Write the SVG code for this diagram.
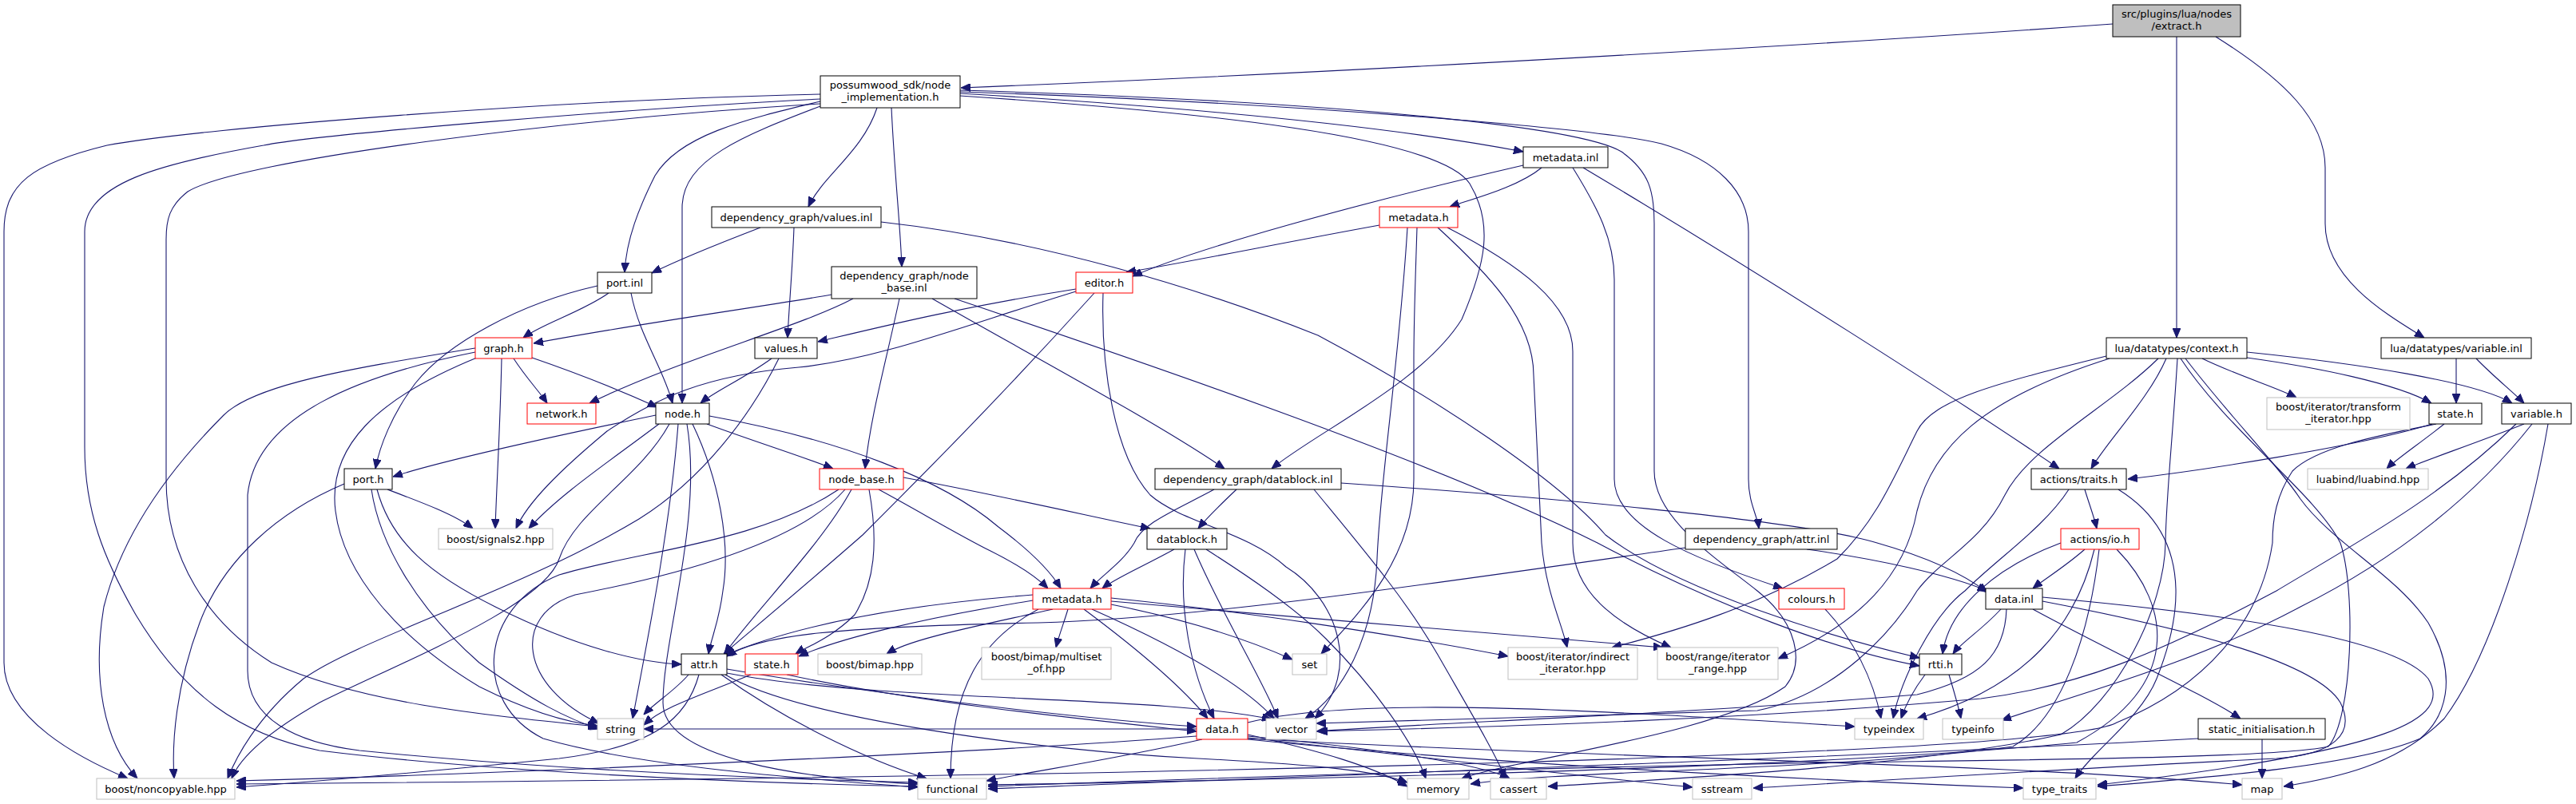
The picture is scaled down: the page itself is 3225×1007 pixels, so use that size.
<svg xmlns="http://www.w3.org/2000/svg" width="3225" height="1007" viewBox="0 0 3225 1007">
<style>
.n rect{fill:#ffffff;stroke:#000000;stroke-width:1}
.sys rect{stroke:#bfbfbf}
.trunc rect{stroke:#ff0000}
.root rect{fill:#bfbfbf;stroke:#000000}
text{font-family:"DejaVu Sans","Liberation Sans",sans-serif;font-size:13px;text-anchor:middle;fill:#000000}
#edges path{fill:none;stroke:#191970;stroke-width:1.1;marker-end:url(#arr)}
</style>
<defs>
<marker id="arr" markerUnits="userSpaceOnUse" markerWidth="12" markerHeight="10" refX="12" refY="5" orient="auto"><path d="M0,0 L12,5 L0,10 z" fill="#191970" stroke="#191970" stroke-width="1"/></marker>
</defs>
<rect x="0" y="0" width="3225" height="1007" fill="#ffffff"/>
<g id="edges">
<path d="M2645,30 C2300,55 1700,90 1203,110"/>
<path d="M2725,46 L2725,423"/>
<path d="M2774,46 C2860,100 2911,150 2911,210 L2911,280 C2911,350 2990,395 3035,423"/>
<path d="M1027,118 C700,125 250,160 134,182 C40,205 5,230 5,290 L5,830 C5,900 100,950 160,975"/>
<path d="M1027,124 C800,135 400,168 330,182 C200,205 106,230 106,290 L106,560 C106,640 130,700 170,770 C230,870 300,920 400,940 C600,965 900,980 1149,985"/>
<path d="M1027,130 C700,150 300,200 235,240 C212,258 208,275 208,300 L208,600 C208,700 260,780 340,830 C450,880 600,895 748,910"/>
<path d="M1027,127 C930,150 850,170 820,220 C800,260 784,300 782,341"/>
<path d="M1027,133 C930,170 854,200 854,260 L854,505"/>
<path d="M1098,135 C1080,190 1030,220 1012,259"/>
<path d="M1116,135 C1120,220 1127,280 1129,334"/>
<path d="M1202,117 C1500,135 1750,160 1907,190"/>
<path d="M1202,120 C1500,140 1800,170 1840,230 C1870,280 1860,330 1830,400 C1780,480 1650,540 1592,587"/>
<path d="M1202,115 C1600,128 2000,160 2080,180 C2150,200 2189,240 2189,290 L2189,600 C2189,630 2200,645 2202,662"/>
<path d="M1202,113 C1700,128 1980,160 2030,190 C2065,215 2071,240 2071,280 L2071,590 C2071,650 2150,700 2200,740 C2250,780 2260,830 2235,860 C2150,920 1900,950 1830,975"/>
<path d="M1969,210 C2000,260 2021,300 2021,350 L2021,600 C2021,660 2120,700 2232,737"/>
<path d="M1930,210 C1900,235 1840,250 1815,259"/>
<path d="M1907,207 C1700,255 1500,310 1418,346"/>
<path d="M1982,210 C2200,340 2450,500 2578,587"/>
<path d="M1727,282 C1600,305 1480,330 1410,341"/>
<path d="M1774,285 C1772,350 1770,400 1770,450 L1770,600 C1770,700 1700,770 1654,819"/>
<path d="M1762,285 C1752,450 1728,600 1724,700 C1720,800 1680,870 1634,900"/>
<path d="M1800,285 C1860,340 1920,400 1920,470 L1930,680 C1935,740 1955,780 1962,811"/>
<path d="M1812,285 C1900,330 1969,380 1969,440 L1969,680 C1969,740 2020,780 2092,811"/>
<path d="M952,285 C900,305 850,325 816,342"/>
<path d="M994,285 C992,340 988,380 986,423"/>
<path d="M1103,278 C1300,300 1500,360 1650,420 C1800,500 1950,600 2010,670 C2100,740 2300,800 2403,824"/>
<path d="M1041,369 C950,385 800,405 668,430"/>
<path d="M1068,374 C1000,410 850,450 738,505"/>
<path d="M1126,374 C1110,450 1090,520 1083,587"/>
<path d="M1167,374 C1300,450 1450,530 1533,587"/>
<path d="M1195,374 C1450,460 1800,580 2000,680 C2150,760 2300,815 2403,834"/>
<path d="M1347,362 C1200,385 1100,410 1024,428"/>
<path d="M1347,365 C1200,410 1100,450 1000,460 C880,470 820,500 760,540 C700,590 660,630 646,662"/>
<path d="M1370,367 C1250,500 1150,600 1080,670 C1000,740 940,790 906,819"/>
<path d="M1381,367 C1378,460 1395,570 1440,620 C1480,655 1560,665 1610,710 C1675,750 1705,840 1646,900"/>
<path d="M762,367 C730,390 680,405 655,423"/>
<path d="M790,367 C800,420 830,460 842,505"/>
<path d="M748,358 C650,380 560,430 520,480 C490,520 475,560 470,587"/>
<path d="M2712,449 C2690,500 2640,550 2618,587"/>
<path d="M2757,449 C2800,470 2850,485 2875,498"/>
<path d="M2813,448 C2900,460 3000,480 3044,505"/>
<path d="M2813,441 C2950,455 3100,478 3145,505"/>
<path d="M2637,446 C2500,480 2420,500 2400,540 C2370,600 2350,650 2300,700 C2200,760 2100,790 2018,811"/>
<path d="M2641,449 C2480,500 2420,560 2400,640 C2385,720 2330,780 2226,825"/>
<path d="M2702,449 C2640,510 2540,560 2510,620 C2480,680 2430,700 2400,740 C2370,790 2300,870 2200,890 L1648,906"/>
<path d="M2726,449 C2720,550 2712,620 2711,680 C2710,760 2650,880 2580,920 C2400,960 2100,975 1938,985"/>
<path d="M2730,449 C2790,540 2900,620 2930,680 C2950,740 2945,900 2915,935 C2850,950 2500,952 2300,955 C1900,962 1500,975 1237,985"/>
<path d="M2736,449 C2790,520 2850,580 2880,625 C2920,680 3000,720 3040,780 C3080,850 3060,900 3030,925 C2950,960 2750,975 2626,985"/>
<path d="M3075,449 L3075,505"/>
<path d="M3100,449 C3120,470 3145,490 3160,505"/>
<path d="M595,436 C450,460 320,480 280,520 C200,600 150,680 130,760 C115,850 130,930 172,975"/>
<path d="M595,441 C450,470 320,520 310,620 L310,840 C310,900 370,930 450,940 C700,965 950,975 1149,980"/>
<path d="M597,448 C470,500 410,560 420,640 C430,720 500,800 600,860 C660,890 710,905 748,909"/>
<path d="M628,449 C626,540 622,600 620,662"/>
<path d="M643,449 C660,475 675,490 685,505"/>
<path d="M666,448 C730,470 790,495 823,510"/>
<path d="M966,449 C930,475 895,490 877,505"/>
<path d="M975,449 C940,520 880,600 800,650 C650,740 450,800 380,850 C320,900 295,950 285,975"/>
<path d="M821,520 C700,545 560,575 492,597"/>
<path d="M885,531 C950,555 1000,570 1043,587"/>
<path d="M888,521 C1050,550 1180,600 1250,660 C1290,690 1315,715 1328,737"/>
<path d="M867,531 C900,600 915,680 905,740 C900,780 890,800 887,819"/>
<path d="M825,531 C760,580 700,620 662,662"/>
<path d="M849,531 C840,650 815,780 792,900"/>
<path d="M838,531 C800,600 720,640 700,700 C680,760 500,830 400,880 C330,920 300,950 290,975"/>
<path d="M860,531 C880,650 830,800 830,880 C830,950 1000,975 1149,982"/>
<path d="M431,606 C350,640 280,700 250,780 C220,860 215,930 218,975"/>
<path d="M485,613 C530,630 570,645 592,662"/>
<path d="M465,613 C475,680 520,760 600,830 C670,880 710,900 750,913"/>
<path d="M472,613 C490,680 540,720 620,760 C720,810 800,830 853,832"/>
<path d="M1131,598 C1250,620 1380,650 1440,662"/>
<path d="M1100,613 C1150,640 1200,670 1240,690 C1280,710 1300,725 1312,737"/>
<path d="M1088,613 C1100,680 1095,730 1070,770 C1040,800 1010,810 996,819"/>
<path d="M1066,613 C1030,680 950,760 907,819"/>
<path d="M1058,613 C1000,680 850,720 720,745 C640,770 650,860 750,906"/>
<path d="M1050,613 C950,680 800,690 700,720 C600,760 590,880 680,925 C800,960 1000,975 1149,986"/>
<path d="M1548,613 C1530,630 1510,650 1500,662"/>
<path d="M1520,613 C1470,640 1430,655 1420,680 C1405,705 1380,720 1365,737"/>
<path d="M1679,605 C1900,620 2250,650 2350,680 C2420,700 2460,720 2488,742"/>
<path d="M1645,613 C1700,680 1760,750 1800,820 C1840,890 1870,940 1885,975"/>
<path d="M1470,688 C1430,710 1395,725 1380,737"/>
<path d="M1484,688 C1475,760 1490,840 1520,900"/>
<path d="M1495,688 C1530,770 1580,850 1600,900"/>
<path d="M1510,688 C1560,720 1620,760 1660,800 C1720,860 1770,930 1785,975"/>
<path d="M1293,745 C1100,760 980,790 906,821"/>
<path d="M1293,752 C1150,775 1050,800 1000,822"/>
<path d="M1318,763 C1220,785 1140,800 1110,819"/>
<path d="M1337,763 C1332,780 1326,795 1322,811"/>
<path d="M1300,763 C1230,800 1190,860 1190,975"/>
<path d="M1357,763 C1420,810 1480,860 1512,900"/>
<path d="M1367,763 C1450,800 1550,850 1595,900"/>
<path d="M1391,757 C1480,775 1560,800 1618,826"/>
<path d="M1391,749 C1550,765 1750,795 1888,822"/>
<path d="M1391,753 C1600,772 1900,795 2082,811"/>
<path d="M862,845 C845,865 820,880 806,895"/>
<path d="M875,845 C860,900 820,935 700,950 C500,970 380,980 296,986"/>
<path d="M903,845 C980,900 1080,950 1160,975"/>
<path d="M910,838 C1100,870 1350,900 1498,910"/>
<path d="M910,843 C1100,880 1450,870 1592,901"/>
<path d="M908,845 C1000,900 1300,940 1500,950 C1650,958 1720,965 1762,980"/>
<path d="M940,845 C880,870 830,885 806,908"/>
<path d="M985,845 C1150,880 1350,900 1498,916"/>
<path d="M1498,913 L806,913"/>
<path d="M1505,926 C1400,950 1300,965 1235,978"/>
<path d="M1498,922 C1200,945 600,970 296,978"/>
<path d="M1562,920 C1650,940 1720,960 1762,985"/>
<path d="M1562,922 C1700,935 1850,955 1890,975"/>
<path d="M1562,924 C1800,950 2000,975 2119,986"/>
<path d="M1562,926 C1900,960 2300,978 2533,987"/>
<path d="M1562,925 C2000,950 2500,955 2807,983"/>
<path d="M1562,905 C1700,870 2000,890 2322,910"/>
<path d="M2505,763 C2480,790 2455,805 2445,819"/>
<path d="M2512,763 C2510,820 2480,850 2400,870 C2100,895 1800,905 1648,916"/>
<path d="M2545,763 C2650,820 2760,870 2805,900"/>
<path d="M2557,748 C2800,770 3000,800 3040,850 C3070,900 3000,940 2626,983"/>
<path d="M2557,753 C2750,790 2900,830 2930,880 C2950,920 2920,945 2850,950 C2600,962 2350,978 2195,987"/>
<path d="M2752,925 C2400,945 1700,970 1237,988"/>
<path d="M2832,926 L2832,975"/>
<path d="M2440,845 C2446,865 2452,885 2455,900"/>
<path d="M2410,845 C2395,865 2385,885 2380,900"/>
<path d="M2580,680 C2500,710 2440,760 2432,819"/>
<path d="M2610,688 C2585,710 2560,725 2545,737"/>
<path d="M2622,688 C2600,780 2540,860 2400,900"/>
<path d="M2628,688 C2615,800 2580,900 2520,935 C2300,965 1950,965 1841,982"/>
<path d="M2650,688 C2720,760 2730,860 2600,930 C2300,960 1700,975 1237,983"/>
<path d="M2610,613 C2615,630 2622,648 2625,662"/>
<path d="M2590,613 C2560,660 2500,700 2460,740 C2420,770 2380,850 2370,900"/>
<path d="M2652,613 C2760,680 2720,800 2700,850 C2680,900 2620,940 2598,975"/>
<path d="M3045,531 C2950,560 2750,590 2664,600"/>
<path d="M3060,531 C3030,555 3000,575 2988,587"/>
<path d="M3050,531 C2980,545 2900,560 2870,590 C2850,620 2845,650 2845,680 C2830,780 2760,860 2650,905 C2580,945 1500,972 296,982"/>
<path d="M3160,531 C3100,555 3040,575 3012,587"/>
<path d="M3170,531 C3100,620 3000,700 2880,760 C2750,830 2600,870 2506,902"/>
<path d="M3190,531 C3170,650 3120,820 3060,900 C3000,960 2920,975 2859,985"/>
<path d="M3150,531 C3060,620 2950,680 2850,740 C2700,820 2600,860 2480,875 C2200,900 1900,910 1650,916"/>
<path d="M2285,763 C2320,800 2345,850 2355,900"/>
<path d="M2262,688 C2350,700 2440,720 2488,740"/>
<path d="M2110,686 C1800,730 1500,775 1300,780 C1050,785 950,795 910,822"/>
</g>
<g id="n-extract" class="n root"><rect x="2645" y="6" width="160" height="40"/><text x="2725" y="22">src/plugins/lua/nodes</text><text x="2725" y="37">/extract.h</text></g>
<g id="n-node-implementation" class="n"><rect x="1027" y="95" width="175" height="40"/><text x="1114.5" y="111">possumwood_sdk/node</text><text x="1114.5" y="126">_implementation.h</text></g>
<g id="n-metadata-inl" class="n"><rect x="1907" y="184" width="106" height="26"/><text x="1960" y="202">metadata.inl</text></g>
<g id="n-values-inl" class="n"><rect x="891" y="259" width="212" height="26"/><text x="997" y="277">dependency_graph/values.inl</text></g>
<g id="n-metadata-h-sdk" class="n trunc"><rect x="1727" y="259" width="98" height="26"/><text x="1776" y="277">metadata.h</text></g>
<g id="n-node-base-inl" class="n"><rect x="1041" y="334" width="182" height="40"/><text x="1132" y="350">dependency_graph/node</text><text x="1132" y="365">_base.inl</text></g>
<g id="n-editor" class="n trunc"><rect x="1347" y="341" width="71" height="26"/><text x="1382.5" y="359">editor.h</text></g>
<g id="n-port-inl" class="n"><rect x="748" y="341" width="68" height="26"/><text x="782" y="359">port.inl</text></g>
<g id="n-context" class="n"><rect x="2637" y="423" width="176" height="26"/><text x="2725" y="441">lua/datatypes/context.h</text></g>
<g id="n-variable-inl" class="n"><rect x="2981" y="423" width="188" height="26"/><text x="3075" y="441">lua/datatypes/variable.inl</text></g>
<g id="n-graph" class="n trunc"><rect x="595" y="423" width="71" height="26"/><text x="630.5" y="441">graph.h</text></g>
<g id="n-values-h" class="n"><rect x="945" y="423" width="78" height="26"/><text x="984" y="441">values.h</text></g>
<g id="n-network" class="n trunc"><rect x="660" y="505" width="86" height="26"/><text x="703" y="523">network.h</text></g>
<g id="n-node" class="n"><rect x="821" y="505" width="67" height="26"/><text x="854.5" y="523">node.h</text></g>
<g id="n-lua-state" class="n"><rect x="3041" y="505" width="66" height="26"/><text x="3074" y="523">state.h</text></g>
<g id="n-variable-h" class="n"><rect x="3132" y="505" width="87" height="26"/><text x="3175.5" y="523">variable.h</text></g>
<g id="n-transform-iterator" class="n sys"><rect x="2838" y="498" width="179" height="40"/><text x="2927.5" y="514">boost/iterator/transform</text><text x="2927.5" y="529">_iterator.hpp</text></g>
<g id="n-port-h" class="n"><rect x="431" y="587" width="60" height="26"/><text x="461" y="605">port.h</text></g>
<g id="n-node-base-h" class="n trunc"><rect x="1026" y="587" width="105" height="26"/><text x="1078.5" y="605">node_base.h</text></g>
<g id="n-datablock-inl" class="n"><rect x="1446" y="587" width="233" height="26"/><text x="1562.5" y="605">dependency_graph/datablock.inl</text></g>
<g id="n-traits" class="n"><rect x="2543" y="587" width="119" height="26"/><text x="2602.5" y="605">actions/traits.h</text></g>
<g id="n-luabind" class="n sys"><rect x="2889" y="587" width="151" height="26"/><text x="2964.5" y="605">luabind/luabind.hpp</text></g>
<g id="n-attr-inl" class="n"><rect x="2110" y="662" width="190" height="26"/><text x="2205" y="680">dependency_graph/attr.inl</text></g>
<g id="n-signals2" class="n sys"><rect x="549" y="662" width="143" height="26"/><text x="620.5" y="680">boost/signals2.hpp</text></g>
<g id="n-datablock-h" class="n"><rect x="1436" y="662" width="100" height="26"/><text x="1486" y="680">datablock.h</text></g>
<g id="n-io" class="n trunc"><rect x="2580" y="662" width="98" height="26"/><text x="2629" y="680">actions/io.h</text></g>
<g id="n-colours" class="n trunc"><rect x="2227" y="737" width="82" height="26"/><text x="2268" y="755">colours.h</text></g>
<g id="n-metadata-h" class="n trunc"><rect x="1293" y="737" width="98" height="26"/><text x="1342" y="755">metadata.h</text></g>
<g id="n-data-inl" class="n"><rect x="2486" y="737" width="71" height="26"/><text x="2521.5" y="755">data.inl</text></g>
<g id="n-attr-h" class="n"><rect x="853" y="819" width="57" height="26"/><text x="881.5" y="837">attr.h</text></g>
<g id="n-state-h" class="n trunc"><rect x="933" y="819" width="66" height="26"/><text x="966" y="837">state.h</text></g>
<g id="n-bimap" class="n sys"><rect x="1024" y="819" width="130" height="26"/><text x="1089" y="837">boost/bimap.hpp</text></g>
<g id="n-multiset" class="n sys"><rect x="1229" y="811" width="162" height="40"/><text x="1310" y="827">boost/bimap/multiset</text><text x="1310" y="842">_of.hpp</text></g>
<g id="n-set" class="n sys"><rect x="1618" y="819" width="43" height="26"/><text x="1639.5" y="837">set</text></g>
<g id="n-indirect-iterator" class="n sys"><rect x="1888" y="811" width="162" height="40"/><text x="1969" y="827">boost/iterator/indirect</text><text x="1969" y="842">_iterator.hpp</text></g>
<g id="n-iterator-range" class="n sys"><rect x="2075" y="811" width="151" height="40"/><text x="2150.5" y="827">boost/range/iterator</text><text x="2150.5" y="842">_range.hpp</text></g>
<g id="n-rtti" class="n"><rect x="2403" y="819" width="53" height="26"/><text x="2429.5" y="837">rtti.h</text></g>
<g id="n-string" class="n sys"><rect x="748" y="900" width="58" height="26"/><text x="777" y="918">string</text></g>
<g id="n-data-h" class="n trunc"><rect x="1498" y="900" width="64" height="26"/><text x="1530" y="918">data.h</text></g>
<g id="n-vector" class="n sys"><rect x="1585" y="900" width="63" height="26"/><text x="1616.5" y="918">vector</text></g>
<g id="n-typeindex" class="n sys"><rect x="2322" y="900" width="86" height="26"/><text x="2365" y="918">typeindex</text></g>
<g id="n-typeinfo" class="n sys"><rect x="2432" y="900" width="76" height="26"/><text x="2470" y="918">typeinfo</text></g>
<g id="n-static-init" class="n"><rect x="2752" y="900" width="159" height="26"/><text x="2831.5" y="918">static_initialisation.h</text></g>
<g id="n-noncopyable" class="n sys"><rect x="121" y="975" width="173" height="26"/><text x="207.5" y="993">boost/noncopyable.hpp</text></g>
<g id="n-functional" class="n sys"><rect x="1149" y="975" width="86" height="26"/><text x="1192" y="993">functional</text></g>
<g id="n-memory" class="n sys"><rect x="1762" y="975" width="77" height="26"/><text x="1800.5" y="993">memory</text></g>
<g id="n-cassert" class="n sys"><rect x="1866" y="975" width="70" height="26"/><text x="1901" y="993">cassert</text></g>
<g id="n-sstream" class="n sys"><rect x="2119" y="975" width="74" height="26"/><text x="2156" y="993">sstream</text></g>
<g id="n-type-traits" class="n sys"><rect x="2533" y="975" width="91" height="26"/><text x="2578.5" y="993">type_traits</text></g>
<g id="n-map" class="n sys"><rect x="2807" y="975" width="50" height="26"/><text x="2832" y="993">map</text></g>
</svg>
